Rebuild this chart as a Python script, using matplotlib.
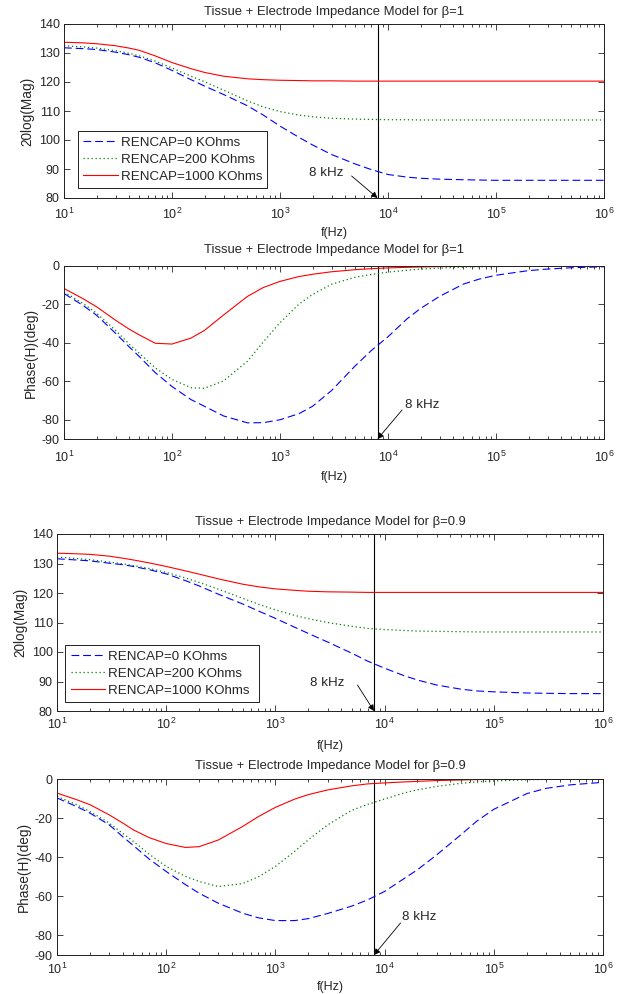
import matplotlib
matplotlib.use("Agg")
import matplotlib.pyplot as plt
from matplotlib.ticker import LogLocator, FixedLocator, NullFormatter

plt.rcParams['font.family'] = ['Liberation Sans', 'DejaVu Sans']
plt.rcParams['font.size'] = 9
plt.rcParams['mathtext.fontset'] = 'custom'
plt.rcParams['mathtext.rm'] = 'Liberation Sans'
plt.rcParams['mathtext.it'] = 'Liberation Sans'
plt.rcParams['mathtext.default'] = 'regular'
plt.rcParams['axes.unicode_minus'] = False

# ---------------- data ----------------
freq = [10, 15, 20, 30, 40, 50, 70, 100, 150, 200,
        300, 500, 700, 1e3, 1.5e3, 2e3, 3e3, 5e3, 7e3, 1e4,
        1.5e4, 2e4, 3e4, 5e4, 7e4, 1e5, 2e5, 3e5, 5e5, 1e6]

labels = ['RENCAP=0 KOhms', 'RENCAP=200 KOhms', 'RENCAP=1000 KOhms']

# beta = 1, magnitude (dB)
mag1_r0 = [131.8, 131.5, 131.2, 130.3, 129.4, 128.5, 126.6, 124.0, 120.8, 118.6,
           115.7, 111.8, 108.6, 104.8, 100.9, 98.3, 95.0, 91.7, 89.8, 88.1,
           87.2, 86.8, 86.5, 86.3, 86.2, 86.1, 86.1, 86.1, 86.1, 86.1]
mag1_r200 = [132.5, 132.1, 131.7, 130.8, 129.9, 129.0, 127.2, 124.8, 122.0, 120.1,
             117.2, 113.5, 111.4, 109.8, 108.6, 108.0, 107.5, 107.2, 107.1, 107.0,
             107.0, 106.9, 106.9, 106.9, 106.9, 106.9, 106.9, 106.9, 106.9, 106.9]
mag1_r1000 = [133.7, 133.5, 133.2, 132.5, 131.7, 130.9, 129.0, 126.7, 124.6, 123.3,
              122.0, 121.1, 120.8, 120.6, 120.5, 120.4, 120.4, 120.3, 120.3, 120.3,
              120.3, 120.3, 120.3, 120.3, 120.3, 120.3, 120.3, 120.3, 120.3, 120.3]

# beta = 1, phase (deg)
ph1_r0 = [-14.3, -20.5, -25.6, -35.0, -42.0, -47.2, -55.5, -62.7, -69.5, -73.0,
          -78.0, -81.6, -81.5, -80.0, -76.8, -73.0, -64.8, -51.8, -44.0, -36.8,
          -27.5, -22.1, -15.8, -9.4, -6.8, -4.8, -2.4, -1.6, -0.9, -0.4]
ph1_r200 = [-13.5, -19.5, -24.5, -33.5, -40.5, -45.5, -53.0, -59.0, -63.3, -63.6,
            -59.8, -49.5, -39.5, -29.5, -19.8, -14.8, -9.5, -5.8, -4.4, -3.2,
            -2.2, -1.6, -1.1, -0.6, -0.4, -0.3, -0.1, -0.1, 0.0, 0.0]
ph1_r1000 = [-11.7, -17.0, -21.2, -28.2, -32.8, -35.9, -40.2, -40.6, -37.5, -33.5,
             -25.5, -15.8, -11.2, -8.0, -5.5, -4.3, -3.0, -1.9, -1.4, -1.0,
             -0.7, -0.5, -0.3, -0.2, -0.1, -0.1, 0.0, 0.0, 0.0, 0.0]

# beta = 0.9, magnitude (dB)
mag2_r0 = [131.6, 131.2, 130.9, 130.1, 129.6, 129.0, 127.9, 126.5, 124.2, 122.4,
           119.6, 116.3, 113.9, 111.4, 108.4, 106.3, 103.4, 99.6, 96.9, 94.5,
           92.0, 90.5, 88.8, 87.4, 86.8, 86.5, 86.1, 86.0, 85.9, 85.9]
mag2_r200 = [132.2, 131.7, 131.3, 130.5, 129.9, 129.3, 128.3, 127.0, 125.1, 123.6,
             121.3, 118.2, 116.2, 114.3, 112.4, 111.3, 110.0, 108.7, 108.0, 107.6,
             107.3, 107.1, 107.0, 106.9, 106.8, 106.8, 106.8, 106.8, 106.8, 106.8]
mag2_r1000 = [133.5, 133.3, 133.1, 132.5, 131.8, 131.2, 130.2, 129.0, 127.5, 126.4,
              124.8, 123.0, 122.1, 121.4, 120.9, 120.6, 120.4, 120.3, 120.2, 120.2,
              120.2, 120.2, 120.2, 120.2, 120.2, 120.2, 120.2, 120.2, 120.2, 120.2]

# beta = 0.9, phase (deg)
ph2_r0 = [-9.7, -14.0, -17.4, -23.4, -29.5, -34.0, -41.0, -47.3, -54.0, -58.4,
          -63.5, -68.6, -71.0, -72.4, -72.4, -71.4, -68.8, -65.0, -61.8, -57.5,
          -51.0, -46.4, -38.8, -28.5, -21.5, -15.5, -7.5, -4.8, -3.0, -1.7]
ph2_r200 = [-8.9, -13.0, -16.6, -22.5, -27.8, -31.9, -38.5, -44.7, -49.8, -52.4,
            -55.0, -53.5, -50.0, -44.7, -37.0, -31.1, -23.5, -16.0, -13.0, -10.2,
            -7.2, -5.5, -3.8, -2.2, -1.5, -1.0, -0.4, -0.2, -0.1, 0.0]
ph2_r1000 = [-7.2, -10.5, -13.1, -18.3, -22.5, -26.0, -30.0, -33.0, -35.0, -34.6,
             -31.2, -24.3, -19.2, -14.5, -10.3, -8.0, -5.6, -3.5, -2.5, -2.0,
             -1.5, -1.2, -0.8, -0.5, -0.3, -0.2, -0.1, 0.0, 0.0, 0.0]

marker_freq = 8000

# ---------------- figure ----------------
W, H = 639, 994
fig = plt.figure(figsize=(W / 100, H / 100), dpi=100)

def px_axes(l, r, t, b):
    return fig.add_axes([l / W, (H - b) / H, (r - l) / W, (b - t) / H])

ax1 = px_axes(64, 604, 24, 198)
ax2 = px_axes(64, 604, 266, 439)
ax3 = px_axes(57, 603, 534, 711)
ax4 = px_axes(57, 603, 779, 955)

styles = [dict(color='#0000ff', lw=0.8, dashes=(7, 3.5)),
          dict(color='#008000', lw=0.9, dashes=(1, 2.2)),
          dict(color='#ff0000', lw=0.8, ls='-')]

tcol = '#262626'

def setup(ax, ylim, yticks, ylabel, title, tpad, xpad, xlpad):
    ax.set_xscale('log')
    ax.set_xlim(10, 1e6)
    ax.set_ylim(*ylim)
    ax.yaxis.set_major_locator(FixedLocator(yticks))
    ax.xaxis.set_major_locator(LogLocator(base=10, numticks=10))
    ax.xaxis.set_minor_locator(LogLocator(base=10, subs=range(2, 10), numticks=10))
    ax.xaxis.set_minor_formatter(NullFormatter())
    ax.tick_params(which='both', direction='in', top=True, right=True,
                   colors=tcol, labelsize=9, width=0.6)
    ax.tick_params(which='major', length=4, pad=3)
    ax.tick_params(which='minor', length=2.5)
    ax.tick_params(axis='x', pad=xpad)
    for s in ax.spines.values():
        s.set_linewidth(0.7)
        s.set_color('#202020')
    ax.set_xlabel('f(Hz)', color=tcol, fontsize=9, labelpad=xlpad)
    ax.set_ylabel(ylabel, color=tcol, fontsize=9.8, labelpad=3)
    ax.set_title(title, color=tcol, fontsize=9.4, pad=tpad)
    ax.axvline(marker_freq, color='k', lw=0.8)

def plot_set(ax, series):
    for vals, st, lab in zip(series, styles, labels):
        ax.plot(freq, vals, label=lab, **st)

def arrow(ax, text_xy, tail_xy, head_xy):
    ax.text(text_xy[0], text_xy[1], '8 kHz', ha='center', va='center',
            fontsize=9.6, color=tcol)
    ax.annotate('', xy=head_xy, xytext=tail_xy,
                arrowprops=dict(arrowstyle='-|>', color='k', lw=0.6,
                                mutation_scale=9, shrinkA=0, shrinkB=0))

def legend(ax, x0, y0, w, h):
    lg = ax.legend(loc='lower left', bbox_to_anchor=(x0, y0, w, h), mode='expand',
                   borderaxespad=0, fancybox=False, framealpha=1,
                   edgecolor='#202020', fontsize=9.6, handlelength=2.6,
                   handletextpad=0.2, labelspacing=0.35, borderpad=0.4)
    lg.get_frame().set_linewidth(0.7)
    for t in lg.get_texts():
        t.set_color(tcol)

# panel 1
setup(ax1, (80, 140), [80, 90, 100, 110, 120, 130, 140], '20log(Mag)',
      'Tissue + Electrode Impedance Model for \u03b2=1', 6.5, 6, 4)
plot_set(ax1, [mag1_r0, mag1_r200, mag1_r1000])
legend(ax1, 0.026, 0.057, 0.35, 0.33)
arrow(ax1, (2700, 88.6), (4600, 87.6), (marker_freq, 80))

# panel 2
setup(ax2, (-90, 0), [-90, -80, -60, -40, -20, 0], 'Phase(H)(deg)',
      'Tissue + Electrode Impedance Model for \u03b2=1', 9.5, 8, 4)
plot_set(ax2, [ph1_r0, ph1_r200, ph1_r1000])
arrow(ax2, (20600, -72.3), (13500, -74.9), (marker_freq, -90))

# panel 3
setup(ax3, (80, 140), [80, 90, 100, 110, 120, 130, 140], '20log(Mag)',
      'Tissue + Electrode Impedance Model for \u03b2=0.9', 6.5, 4, 6)
plot_set(ax3, [mag2_r0, mag2_r200, mag2_r1000])
legend(ax3, 0.015, 0.05, 0.355, 0.375)
arrow(ax3, (2960, 89.5), (5640, 88.8), (marker_freq, 80))

# panel 4
setup(ax4, (-90, 0), [-90, -80, -60, -40, -20, 0], 'Phase(H)(deg)',
      'Tissue + Electrode Impedance Model for \u03b2=0.9', 7.5, 5, 3)
plot_set(ax4, [ph2_r0, ph2_r200, ph2_r1000])
arrow(ax4, (20600, -70.6), (14000, -73.6), (marker_freq, -90))

fig.savefig('out.png', dpi=100)
